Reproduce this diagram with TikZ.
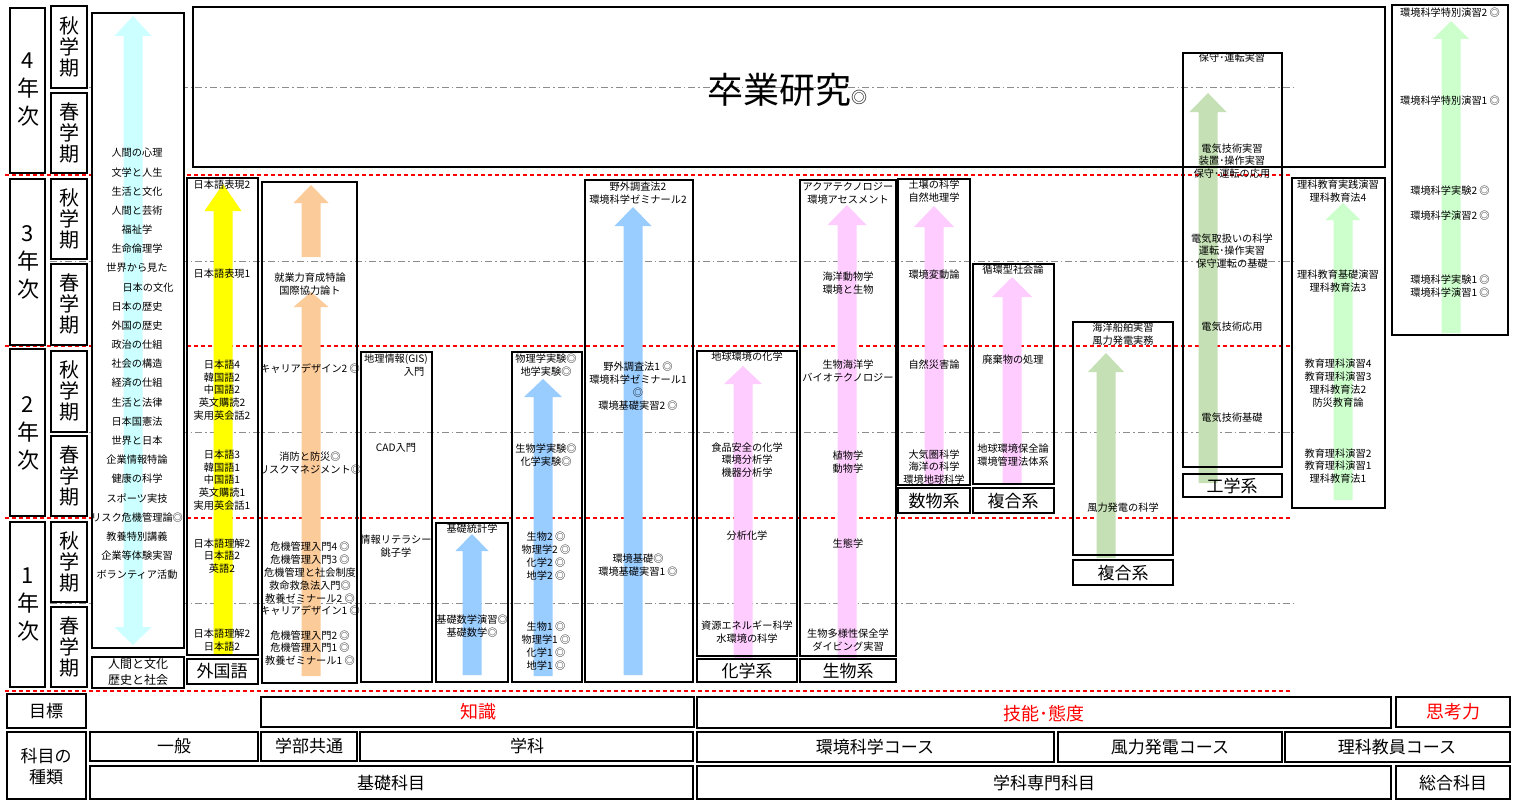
\documentclass[tikz,border=0pt]{standalone}
\usepackage{fontspec}
\setmainfont{Noto Sans CJK JP}
\definecolor{cyanA}{HTML}{CCFFFF}
\definecolor{yelA}{HTML}{FFFF00}
\definecolor{orgA}{HTML}{FBCB9A}
\definecolor{bluA}{HTML}{99CCFF}
\definecolor{pnkA}{HTML}{FFCCFF}
\definecolor{olvA}{HTML}{C5E0B4}
\definecolor{grnA}{HTML}{CCFFCC}
% color, cx, tip y, head base y, bottom y, half head width
\newcommand{\myuparrow}[6]{\fill[#1] ({#2-9.5},{#5}) -- ({#2-9.5},{#4}) -- ({#2-#6},{#4}) -- ({#2},{#3}) -- ({#2+#6},{#4}) -- ({#2+9.5},{#4}) -- ({#2+9.5},{#5}) -- cycle;}
\begin{document}
\begin{tikzpicture}[x=1pt,y=-1pt,
  txt/.style={font=\fontsize{10.2}{12.8}\selectfont,align=center,inner sep=0pt},
  lbl/.style={font=\fontsize{17}{20}\selectfont,inner sep=0pt},
  tbl/.style={font=\fontsize{17}{21}\selectfont,inner sep=0pt,align=center},
  goal/.style={font=\fontsize{18}{20}\selectfont,inner sep=0pt,text=red},
  yr/.style={font=\fontsize{22}{28}\selectfont,inner sep=0pt,align=center},
  sem/.style={font=\fontsize{20}{21}\selectfont,inner sep=0pt,align=center},
  colbox/.style={draw=black,line width=1.7pt},
  frm/.style={draw=black,line width=2.5pt},
  redline/.style={draw=red,line width=1.1pt,dash pattern=on 4pt off 3pt},
  grayline/.style={draw=black!45,line width=1pt,dash pattern=on 7pt off 3pt on 1.5pt off 3pt},
]
\useasboundingbox (0,0) rectangle (1513,800);
\fill[white] (0,0) rectangle (1513,800);

% ---------- guide lines ----------
\foreach \yy in {88,261,432,603} \draw[grayline] (50,\yy) -- (1297,\yy);
\foreach \yy in {175,346,518,691} \draw[redline] (5,\yy) -- (1292,\yy);

% ---------- white-filled left frames ----------
\foreach \a/\b in {8/173,179/345,349/516,522/687} \filldraw[frm,fill=white] (10,\a) rectangle (45,\b);
\foreach \a/\b in {6/88,93/173,179/259,264/345,351/432,436/516,522/602,607/687} \filldraw[frm,fill=white] (51,\a) rectangle (87,\b);
\filldraw[colbox,fill=white] (92,13) rectangle (184,648);

% ---------- arrows ----------
\fill[cyanA] (123.5,36) -- (114.5,36) -- (133,16) -- (151.5,36) -- (142.5,36) -- (142.5,627) -- (151.5,627) -- (133,645) -- (114.5,627) -- (123.5,627) -- cycle;
\myuparrow{yelA}{223}{184}{211}{655}{18.5}
\myuparrow{orgA}{311}{185}{203}{257}{17.5}
\myuparrow{orgA}{311}{292}{307}{676}{17.5}
\myuparrow{bluA}{472}{534}{551}{675}{16.5}
\myuparrow{bluA}{543}{379}{397}{676}{19}
\myuparrow{bluA}{633}{207}{226}{675}{18.5}
\myuparrow{pnkA}{743}{366}{384}{658}{19}
\myuparrow{pnkA}{847}{205}{225}{658}{19.5}
\myuparrow{pnkA}{934}{206}{227}{485}{20}
\myuparrow{pnkA}{1012}{277}{297}{485}{20}
\myuparrow{olvA}{1106}{353}{372}{558}{18}
\myuparrow{olvA}{1208}{93}{112}{483}{18.5}
\myuparrow{grnA}{1343}{203}{220}{500}{17.5}
\myuparrow{grnA}{1451}{21}{39}{333}{18}

% ---------- column boxes ----------
\draw[colbox] (92,657) rectangle (184,688);
\draw[colbox] (187,178) rectangle (258,655);
\draw[colbox] (187,659) rectangle (258,684);
\draw[colbox] (262,182) rectangle (357,683);
\draw[colbox] (361,352) rectangle (432,682);
\draw[colbox] (436,523) rectangle (508,682);
\draw[colbox] (512,352) rectangle (582,682);
\draw[colbox] (585,180) rectangle (693,682);
\draw[colbox] (697,351) rectangle (797,656);
\draw[colbox] (697,659) rectangle (797,682);
\draw[colbox] (800,180) rectangle (896,656);
\draw[colbox] (800,659) rectangle (896,682);
\draw[colbox] (898,179) rectangle (970,485);
\draw[colbox] (898,488) rectangle (970,513);
\draw[colbox] (973,264) rectangle (1054,484);
\draw[colbox] (973,488) rectangle (1054,513);
\draw[colbox] (1073,322) rectangle (1173,555);
\draw[colbox] (1073,560) rectangle (1173,585);
\draw[colbox] (193,7) rectangle (1385,167);
\draw[colbox] (1183,53) rectangle (1282,467);
\draw[colbox] (1183,474) rectangle (1282,497);
\draw[colbox] (1292,178) rectangle (1385,508);
\draw[colbox] (1392,5) rectangle (1508,335);

% ---------- table ----------
\draw[frm] (7,694) rectangle (86,728);
\draw[frm] (261,697) rectangle (694,727);
\draw[frm] (697,697) rectangle (1391,728);
\draw[frm] (1396,697) rectangle (1510,727);
\draw[frm] (7,732) rectangle (86,799);
\draw[frm] (90,732) rectangle (258,761);
\draw[frm] (261,732) rectangle (357,761);
\draw[frm] (360,732) rectangle (693,761);
\draw[frm] (697,732) rectangle (1054,762);
\draw[frm] (1058,732) rectangle (1282,762);
\draw[frm] (1285,732) rectangle (1510,762);
\draw[frm] (90,766) rectangle (693,799);
\draw[frm] (697,766) rectangle (1391,799);
\draw[frm] (1396,766) rectangle (1510,799);

% ---------- year / semester labels ----------
\node[yr] (y4) at (28,90) {4\\年\\次};
\node[yr] (y3) at (28,262) {3\\年\\次};
\node[yr] (y2) at (28,433) {2\\年\\次};
\node[yr] (y1) at (28,605) {1\\年\\次};
\node[sem] (s4a) at (69,47) {秋\\学\\期};
\node[sem] (s4s) at (69,133) {春\\学\\期};
\node[sem] (s3a) at (69,219) {秋\\学\\期};
\node[sem] (s3s) at (69,304) {春\\学\\期};
\node[sem] (s2a) at (69,391) {秋\\学\\期};
\node[sem] (s2s) at (69,476) {春\\学\\期};
\node[sem] (s1a) at (69,562) {秋\\学\\期};
\node[sem] (s1s) at (69,647) {春\\学\\期};

% ---------- general column ----------
\foreach \s/\dx [count=\i from 0] in {人間の心理/0,文学と人生/0,生活と文化/0,人間と芸術/0,福祉学/0,生命倫理学/0,世界から見た/0,日本の文化/11,日本の歴史/0,外国の歴史/0,政治の仕組/0,社会の構造/0,経済の仕組/0,生活と法律/0,日本国憲法/0,世界と日本/0,企業情報特論/0,健康の科学/0,スポーツ実技/0,リスク危機管理論◎/0,教養特別講義/0,企業等体験実習/0,ボランティア活動/0}
  \node[txt] (g\i) at ({137+\dx},{153+19.18*\i}) {\s};
\node[txt,font=\fontsize{12}{16}\selectfont] (glbl) at (138,672) {人間と文化\\歴史と社会};

% ---------- foreign language ----------
\node[txt] (f1) at (222,185) {日本語表現2};
\node[txt] (f2) at (222,274) {日本語表現1};
\node[txt] (f3) at (222,390) {日本語4\\韓国語2\\中国語2\\英文購読2\\実用英会話2};
\node[txt] (f4) at (222,480) {日本語3\\韓国語1\\中国語1\\英文購読1\\実用英会話1};
\node[txt] (f5) at (222,556) {日本語理解2\\日本語2\\英語2};
\node[txt] (f6) at (222,640) {日本語理解2\\日本語2};
\node[lbl] (flbl) at (222,671) {外国語};

% ---------- faculty common ----------
\node[txt] (c1) at (310,284) {就業力育成特論\\国際協力論ト};
\node[txt] (c2) at (310,369) {キャリアデザイン2 ◎};
\node[txt] (c3) at (310,463) {消防と防災◎\\リスクマネジメント◎};
\node[txt] (c4) at (310,579) {危機管理入門4 ◎\\危機管理入門3 ◎\\危機管理と社会制度\\救命救急法入門◎\\教養ゼミナール2 ◎\\キャリアデザイン1 ◎};
\node[txt] (c5) at (310,648) {危機管理入門2 ◎\\危機管理入門1 ◎\\教養ゼミナール1 ◎};

% ---------- information ----------
\node[txt] (i1) at (396,359) {地理情報(GIS)};
\node[txt] (i2) at (414,372) {入門};
\node[txt] (i3) at (396,448) {CAD入門};
\node[txt] (i4) at (396,546) {情報リテラシー\\銚子学};

% ---------- math ----------
\node[txt] (m1) at (472,529) {基礎統計学};
\node[txt] (m2) at (472,626) {基礎数学演習◎\\基礎数学◎};

% ---------- science ----------
\node[txt] (r1) at (546,365) {物理学実験◎\\地学実験◎};
\node[txt] (r2) at (546,455) {生物学実験◎\\化学実験◎};
\node[txt] (r3) at (546,556) {生物2 ◎\\物理学2 ◎\\化学2 ◎\\地学2 ◎};
\node[txt] (r4) at (546,646) {生物1 ◎\\物理学1 ◎\\化学1 ◎\\地学1 ◎};

% ---------- environment ----------
\node[txt] (e1) at (638,193) {野外調査法2\\環境科学ゼミナール2};
\node[txt] (e2) at (638,386) {野外調査法1 ◎\\環境科学ゼミナール1\\◎\\環境基礎実習2 ◎};
\node[txt] (e3) at (638,565) {環境基礎◎\\環境基礎実習1 ◎};

% ---------- chemistry ----------
\node[txt] (k1) at (747,357) {地球環境の化学};
\node[txt] (k2) at (747,460) {食品安全の化学\\環境分析学\\機器分析学};
\node[txt] (k3) at (747,536) {分析化学};
\node[txt] (k4) at (747,632) {資源エネルギー科学\\水環境の科学};
\node[lbl] (klbl) at (747,671) {化学系};

% ---------- biology ----------
\node[txt] (b1) at (848,193) {アクアテクノロジー\\環境アセスメント};
\node[txt] (b2) at (848,283) {海洋動物学\\環境と生物};
\node[txt] (b3) at (848,371) {生物海洋学\\バイオテクノロジー};
\node[txt] (b4) at (848,462) {植物学\\動物学};
\node[txt] (b5) at (848,544) {生態学};
\node[txt] (b6) at (848,640) {生物多様性保全学\\ダイビング実習};
\node[lbl] (blbl) at (848,671) {生物系};

% ---------- math-physics ----------
\node[txt] (p1) at (934,191) {土壌の科学\\自然地理学};
\node[txt] (p2) at (934,275) {環境変動論};
\node[txt] (p3) at (934,365) {自然災害論};
\node[txt] (p4) at (934,467) {大気圏科学\\海洋の科学\\環境地球科学};
\node[lbl] (plbl) at (934,501) {数物系};

% ---------- composite ----------
\node[txt] (x1) at (1013,270) {循環型社会論};
\node[txt] (x2) at (1013,360) {廃棄物の処理};
\node[txt] (x3) at (1013,455) {地球環境保全論\\環境管理法体系};
\node[lbl] (xlbl) at (1013,501) {複合系};

% ---------- wind ----------
\node[txt] (w1) at (1123,334) {海洋船舶実習\\風力発電実務};
\node[txt] (w2) at (1123,508) {風力発電の科学};
\node[lbl] (wlbl) at (1123,573) {複合系};

% ---------- engineering ----------
\node[txt] (n1) at (1232,58) {保守･運転実習};
\node[txt] (n2) at (1232,161) {電気技術実習\\装置･操作実習\\保守･運転の応用};
\node[txt] (n3) at (1232,251) {電気取扱いの科学\\運転･操作実習\\保守運転の基礎};
\node[txt] (n4) at (1232,327) {電気技術応用};
\node[txt] (n5) at (1232,418) {電気技術基礎};
\node[lbl] (nlbl) at (1232,486) {工学系};

% ---------- science teacher ----------
\node[txt] (t1) at (1338,191) {理科教育実践演習\\理科教育法4};
\node[txt] (t2) at (1338,281) {理科教育基礎演習\\理科教育法3};
\node[txt] (t3) at (1338,383) {教育理科演習4\\教育理科演習3\\理科教育法2\\防災教育論};
\node[txt] (t4) at (1338,466) {教育理科演習2\\教育理科演習1\\理科教育法1};

% ---------- special ----------
\node[txt] (sp1) at (1450,13) {環境科学特別演習2 ◎};
\node[txt] (sp2) at (1450,101) {環境科学特別演習1 ◎};
\node[txt] (sp3) at (1450,191) {環境科学実験2 ◎};
\node[txt] (sp4) at (1450,216) {環境科学演習2 ◎};
\node[txt] (sp5) at (1450,286) {環境科学実験1 ◎\\環境科学演習1 ◎};

% ---------- graduation research ----------
\node[inner sep=0pt] (grad) at (787,90) {{\fontsize{36}{40}\selectfont 卒業研究}{\fontsize{16}{18}\selectfont ◎}};

% ---------- table texts ----------
\node[tbl] (tg) at (46,711) {目標};
\node[goal] (tk) at (478,712) {知識};
\node[goal] (tt) at (1044,714) {技能･態度};
\node[goal] (ts) at (1453,712) {思考力};
\node[tbl] (tkind) at (46,767) {科目の\\種類};
\node[tbl] (t_ip) at (174,746) {一般};
\node[tbl] (t_gb) at (309,746) {学部共通};
\node[tbl] (t_gk) at (527,746) {学科};
\node[tbl] (t_ev) at (875,747) {環境科学コース};
\node[tbl] (t_wd) at (1170,747) {風力発電コース};
\node[tbl] (t_rk) at (1397,747) {理科教員コース};
\node[tbl] (t_ks) at (391,783) {基礎科目};
\node[tbl] (t_sm) at (1044,783) {学科専門科目};
\node[tbl] (t_sg) at (1453,783) {総合科目};
\end{tikzpicture}
\end{document}
